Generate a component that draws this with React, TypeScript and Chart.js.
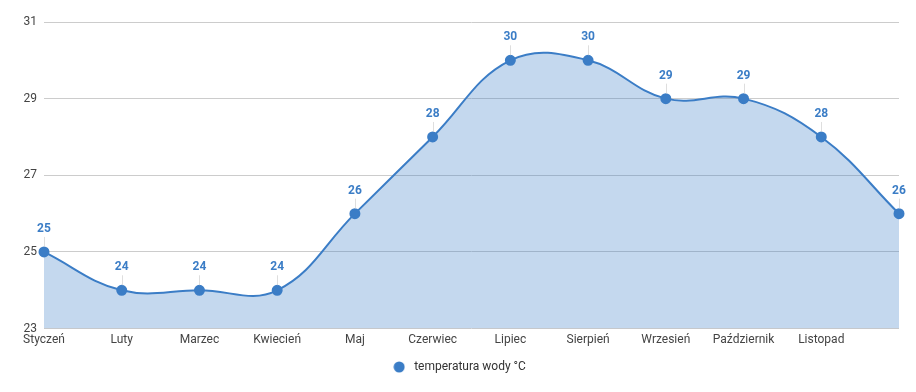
import React, { useEffect, useRef } from "react";
import { Chart, registerables } from "chart.js";

Chart.register(...registerables);

const months = [
  "Styczeń", "Luty", "Marzec", "Kwiecień", "Maj", "Czerwiec",
  "Lipiec", "Sierpień", "Wrzesień", "Październik", "Listopad", "Grudzień",
];
const waterTemp = [25, 24, 24, 24, 26, 28, 30, 30, 29, 29, 28, 26];
const yTicks = [23, 25, 27, 29, 31];
const seriesName = "temperatura wody °C";

const LINE = "#3b7dc6";
const FONT = "Roboto, 'Noto Sans', Arial, sans-serif";

function makeLegendDot(): HTMLCanvasElement {
  const c = document.createElement("canvas");
  c.width = 12;
  c.height = 12;
  const g = c.getContext("2d") as CanvasRenderingContext2D;
  g.fillStyle = LINE;
  g.beginPath();
  g.arc(6, 6, 5.5, 0, Math.PI * 2);
  g.fill();
  return c;
}

const valueLabels = {
  id: "valueLabels",
  afterDatasetsDraw(chart: any) {
    const ctx = chart.ctx;
    const meta = chart.getDatasetMeta(0);
    const data = chart.data.datasets[0].data;
    ctx.save();
    meta.data.forEach((pt: any, i: number) => {
      const x = pt.x;
      const y = pt.y;
      ctx.strokeStyle = "rgba(200,200,200,0.6)";
      ctx.lineWidth = 1;
      ctx.beginPath();
      ctx.moveTo(Math.round(x) + 0.5, y - 15);
      ctx.lineTo(Math.round(x) + 0.5, y - 5);
      ctx.stroke();
      ctx.fillStyle = LINE;
      ctx.font = `bold 12px ${FONT}`;
      ctx.textAlign = "center";
      ctx.textBaseline = "middle";
      ctx.fillText(String(data[i]), x, y - 23);
    });
    ctx.restore();
  },
};

export default function App() {
  const ref = useRef<HTMLCanvasElement | null>(null);
  useEffect(() => {
    document.body.style.margin = "0";
    const dot = makeLegendDot();
    const chart = new Chart(ref.current as HTMLCanvasElement, {
      type: "line",
      data: {
        labels: months,
        datasets: [
          {
            label: seriesName,
            data: waterTemp,
            borderColor: LINE,
            backgroundColor: "rgba(59,125,198,0.3)",
            pointBackgroundColor: LINE,
            pointBorderColor: LINE,
            pointRadius: 4.5,
            borderWidth: 2,
            tension: 0.4,
            fill: "origin",
          },
        ],
      },
      options: {
        animation: false,
        responsive: false,
        maintainAspectRatio: false,
        layout: { padding: { left: 0, right: 0, top: 22, bottom: 9 } },
        scales: {
          x: {
            offset: false,
            grid: { display: false, drawTicks: false },
            border: { display: false },
            ticks: {
              autoSkip: false,
              maxRotation: 0,
              padding: 4,
              color: "#444",
              font: { family: FONT, size: 12 },
              callback: (_v: any, i: number) => (i === months.length - 1 ? "" : months[i]),
            },
          },
          y: {
            min: 23,
            max: 31,
            afterFit: (scale: any) => {
              scale.width = 44;
            },
            afterBuildTicks: (scale: any) => {
              scale.ticks = yTicks.map((v) => ({ value: v }));
            },
            grid: { color: "#cccccc", drawTicks: false },
            border: { display: false },
            ticks: {
              padding: 7,
              color: "#444",
              font: { family: FONT, size: 12 },
            },
          },
          yRight: {
            position: "right",
            min: 23,
            max: 31,
            grid: { display: false, drawTicks: false },
            border: { display: false },
            ticks: { display: false },
            afterFit: (scale: any) => {
              scale.width = 17;
            },
          },
        },
        plugins: {
          legend: {
            position: "bottom",
            labels: {
              usePointStyle: true,
              pointStyle: dot,
              pointStyleWidth: 18,
              boxWidth: 12,
              boxHeight: 12,
              color: "#333",
              font: { family: FONT, size: 12 },
              padding: 10,
              generateLabels: (ch: any) => [
                {
                  text: seriesName,
                  fillStyle: LINE,
                  strokeStyle: LINE,
                  lineWidth: 0,
                  pointStyle: dot,
                  hidden: false,
                  datasetIndex: 0,
                  fontColor: "#333",
                },
              ],
            },
          },
          tooltip: { enabled: false },
        },
      },
      plugins: [valueLabels],
    });
    return () => chart.destroy();
  }, []);
  return (
    <div style={{ position: "absolute", left: 0, top: 0, width: 916, height: 392 }}>
      <canvas ref={ref} width={916} height={392} />
    </div>
  );
}
